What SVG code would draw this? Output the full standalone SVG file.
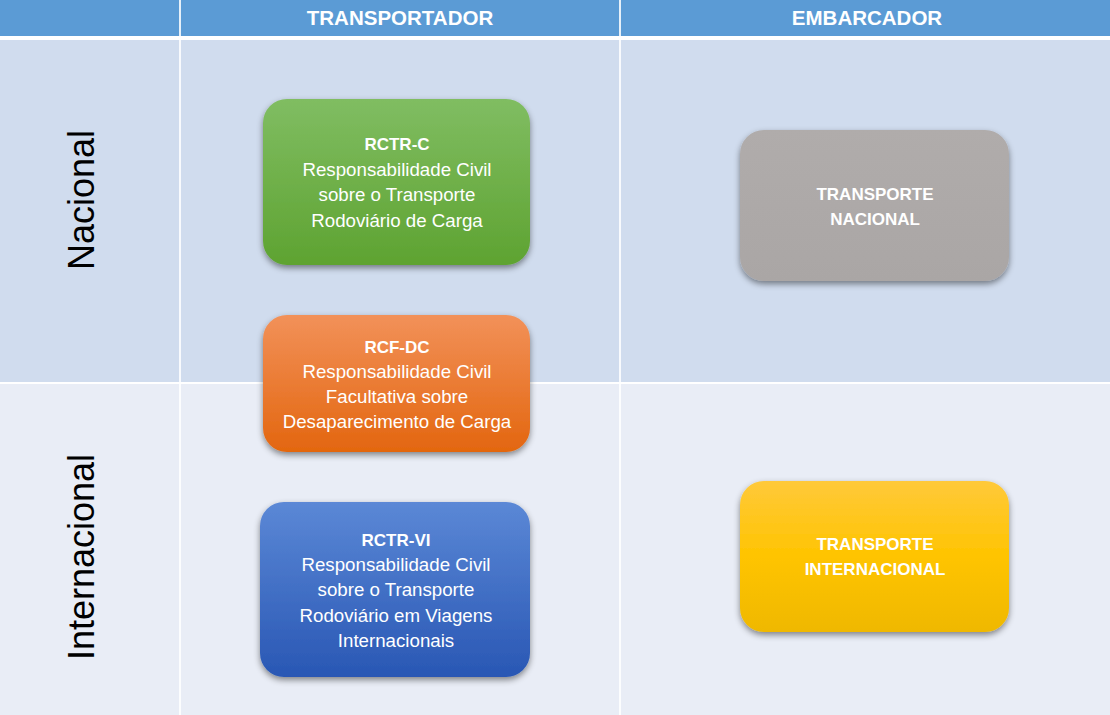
<svg xmlns="http://www.w3.org/2000/svg" width="1110" height="715" viewBox="0 0 1110 715">
<defs>
<linearGradient id="gGreen" x1="0" y1="0" x2="0" y2="1"><stop offset="0" stop-color="#80bd62"/><stop offset="1" stop-color="#5ea331"/></linearGradient>
<linearGradient id="gOrange" x1="0" y1="0" x2="0" y2="1"><stop offset="0" stop-color="#f29159"/><stop offset="1" stop-color="#e3660f"/></linearGradient>
<linearGradient id="gBlue" x1="0" y1="0" x2="0" y2="1"><stop offset="0" stop-color="#5b88d6"/><stop offset="1" stop-color="#2957b4"/></linearGradient>
<linearGradient id="gGray" x1="0" y1="0" x2="0" y2="1"><stop offset="0" stop-color="#b0acab"/><stop offset="1" stop-color="#aaa6a5"/></linearGradient>
<linearGradient id="gYellow" x1="0" y1="0" x2="0" y2="1"><stop offset="0" stop-color="#ffc93a"/><stop offset="0.5" stop-color="#ffc400"/><stop offset="1" stop-color="#efb800"/></linearGradient>
<filter id="sh" x="-10%" y="-10%" width="120%" height="130%"><feDropShadow dx="0" dy="3" stdDeviation="3" flood-color="#000" flood-opacity="0.45"/></filter>
</defs>
<style>
.hdr{font-family:"Liberation Sans",Arial,sans-serif;font-weight:bold;font-size:20.5px;fill:#fff;text-anchor:middle}
.side{font-family:"Liberation Sans",Arial,sans-serif;font-size:36px;fill:#000;text-anchor:middle}
.t{font-family:"Liberation Sans",Arial,sans-serif;font-size:18.7px;fill:#fff;text-anchor:middle}
.b{font-weight:bold;font-size:17px}
.box{filter:url(#sh)}
</style>
<g id="grid">
<rect x="0" y="0" width="1110" height="715" fill="#ffffff"/>
<rect x="0" y="0" width="1110" height="36" fill="#5b9bd5"/>
<rect x="0" y="40" width="1110" height="342" fill="#d0dcee"/>
<rect x="0" y="384" width="1110" height="331" fill="#e9edf6"/>
<rect x="179" y="0" width="2" height="715" fill="#ffffff" opacity="0.85"/>
<rect x="619" y="0" width="2" height="715" fill="#ffffff" opacity="0.85"/>
</g>
<g id="headers">
<text class="hdr" x="400" y="25">TRANSPORTADOR</text>
<text class="hdr" x="867" y="25">EMBARCADOR</text>
</g>
<g id="rowlabels">
<text class="side" transform="translate(94,200) rotate(-90)">Nacional</text>
<text class="side" transform="translate(94,557) rotate(-90)">Internacional</text>
</g>
<g id="node-rctr-c">
<rect class="box" x="263" y="99" width="267" height="166" rx="24" fill="url(#gGreen)"/>
<text class="t" x="397" y="150"><tspan class="b">RCTR-C</tspan><tspan x="397" dy="25.5">Responsabilidade Civil</tspan><tspan x="397" dy="25.5">sobre o Transporte</tspan><tspan x="397" dy="25.5">Rodoviário de Carga</tspan></text>
</g>
<g id="node-rcf-dc">
<rect class="box" x="263" y="315" width="267" height="137" rx="24" fill="url(#gOrange)"/>
<text class="t" x="397" y="353"><tspan class="b">RCF-DC</tspan><tspan x="397" dy="25">Responsabilidade Civil</tspan><tspan x="397" dy="25">Facultativa sobre</tspan><tspan x="397" dy="25">Desaparecimento de Carga</tspan></text>
</g>
<g id="node-rctr-vi">
<rect class="box" x="260" y="502" width="270" height="175" rx="24" fill="url(#gBlue)"/>
<text class="t" x="396" y="546"><tspan class="b">RCTR-VI</tspan><tspan x="396" dy="25.2">Responsabilidade Civil</tspan><tspan x="396" dy="25.2">sobre o Transporte</tspan><tspan x="396" dy="25.2">Rodoviário em Viagens</tspan><tspan x="396" dy="25.2">Internacionais</tspan></text>
</g>
<g id="node-transporte-nacional">
<rect class="box" x="740" y="130" width="269" height="151" rx="24" fill="url(#gGray)"/>
<text class="t b" x="875" y="200">TRANSPORTE<tspan x="875" dy="25">NACIONAL</tspan></text>
</g>
<g id="node-transporte-internacional">
<rect class="box" x="740" y="481" width="269" height="151" rx="24" fill="url(#gYellow)"/>
<text class="t b" x="875" y="550">TRANSPORTE<tspan x="875" dy="25">INTERNACIONAL</tspan></text>
</g>
<g id="connectors"/>
</svg>
